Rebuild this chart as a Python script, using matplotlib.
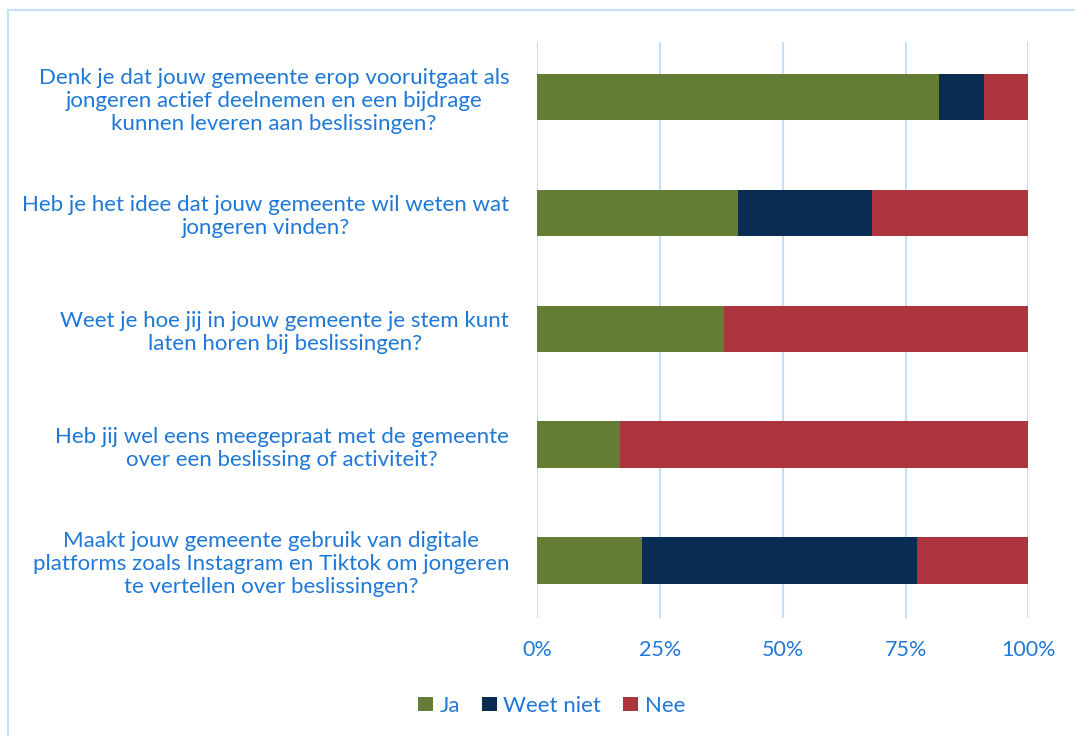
import numpy as np
import matplotlib.pyplot as plt
from matplotlib.patches import Rectangle

plt.rcParams['font.family'] = ['Lato', 'DejaVu Sans']

# vragen (van boven naar beneden)
questions = [
    "Denk je dat jouw gemeente erop vooruitgaat als\njongeren actief deelnemen en een bijdrage\nkunnen leveren aan beslissingen?",
    "Heb je het idee dat jouw gemeente wil weten wat\njongeren vinden?",
    "Weet je hoe jij in jouw gemeente je stem kunt\nlaten horen bij beslissingen?",
    "Heb jij wel eens meegepraat met de gemeente\nover een beslissing of activiteit?",
    "Maakt jouw gemeente gebruik van digitale\nplatforms zoals Instagram en Tiktok om jongeren\nte vertellen over beslissingen?",
]

# aandelen in procenten
ja = [81.9, 41.0, 38.0, 16.9, 21.3]
weet_niet = [9.0, 27.1, 0.0, 0.0, 56.0]
nee = [9.1, 31.9, 62.0, 83.1, 22.7]

series_names = ['Ja', 'Weet niet', 'Nee']
colors = ['#637E34', '#082C52', '#AC343F']
text_color = '#1E78D7'
grid_color = '#C5DFF8'

fig = plt.figure(figsize=(10.75, 7.36), dpi=100)
ax = fig.add_axes([0.4995, 0.160, 0.4572, 0.783])

y = np.arange(len(questions))
left = np.zeros(len(questions))
for vals, name, c in zip([ja, weet_niet, nee], series_names, colors):
    ax.barh(y, vals, left=left, height=0.4, color=c, label=name, zorder=3)
    left = left + np.array(vals)

ax.set_ylim(len(questions) - 0.5, -0.477)
ax.set_xlim(0, 100)
ax.set_xticks([0, 25, 50, 75, 100])
ax.set_xticklabels(['0%', '25%', '50%', '75%', '100%'])
ax.set_yticks(y)
ax.set_yticklabels(questions, multialignment='center', linespacing=1.2)
ax.tick_params(axis='y', length=0, pad=20, labelsize=16, labelcolor=text_color)
ax.tick_params(axis='x', length=0, pad=16, labelsize=15.5, labelcolor=text_color)
ax.xaxis.grid(True, color=grid_color, linewidth=1.5, zorder=0)
for s in ax.spines.values():
    s.set_visible(False)

ax.legend(loc='upper center', bbox_to_anchor=(0.03, -0.1), ncol=3, frameon=False,
          fontsize=16, labelcolor=text_color, handlelength=0.65, handleheight=0.65,
          handletextpad=0.3, columnspacing=1.0)

# lichtblauwe rand om de grafiek
fig.patches.append(Rectangle((8 / 1075, -0.01), 1.1, 1 - 10 / 736 + 0.01,
                             transform=fig.transFigure, fill=False,
                             edgecolor=grid_color, linewidth=1.5))

fig.savefig('out.png', dpi=100)
